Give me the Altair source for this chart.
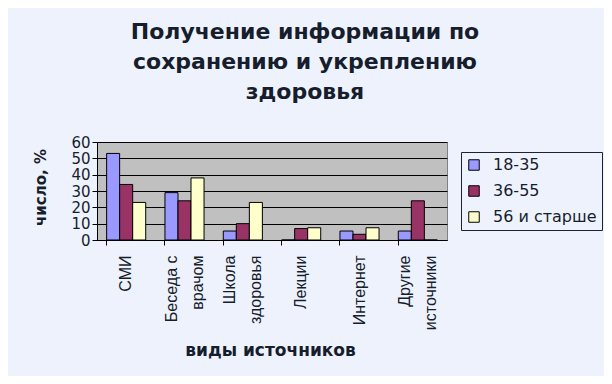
import altair as alt
import pandas as pd

categories = ["СМИ", "Беседа с|врачом", "Школа|здоровья", "Лекции", "Интернет", "Другие|источники"]
groups = ["18-35", "36-55", "56 и старше"]
v_18_35 = [53, 29, 5.5, 0, 5.5, 5.5]
v_36_55 = [34, 24, 10, 7, 3.5, 24]
v_56 = [23, 38, 23, 7.5, 7.5, 0]
colors = ["#9999FF", "#993366", "#FFFFCC"]
title_lines = ["Получение информации по", "сохранению и укреплению", "здоровья"]
y_ticks = [0, 10, 20, 30, 40, 50, 60]

rows = []
for g, vals in zip(groups, [v_18_35, v_36_55, v_56]):
    for c, v in zip(categories, vals):
        rows.append({"cat": c, "grp": g, "val": v})
df = pd.DataFrame(rows)

TXT = "#161d2c"
BG = "#EEF2FC"

xscale = alt.Scale(domain=categories, paddingInner=0.33, paddingOuter=0.165)

bars = alt.Chart(df).mark_bar(stroke="black", strokeWidth=1).encode(
    x=alt.X("cat:N", sort=categories, scale=xscale,
            axis=alt.Axis(title="виды источников", orient="bottom", labelAngle=270, labelAlign="right",
                          labelBaseline="middle", labelExpr="split(datum.label, '|')",
                          labelOffset={"condition": {"test": "indexof(datum.label, '|') >= 0", "value": -13}, "value": 0},
                          labelFont="Liberation Sans", labelFontSize=16, labelLineHeight=26,
                          labelColor=TXT, labelPadding=15, ticks=False, domain=True,
                          domainColor="black", grid=False, labelLimit=200,
                          titleFont="DejaVu Sans", titleFontSize=17, titleFontWeight="bold",
                          titleColor=TXT, titleX=173, titleY=110, titleBaseline="middle")),
    xOffset=alt.XOffset("grp:N", sort=groups, scale=alt.Scale(paddingInner=0, paddingOuter=0)),
    y=alt.Y("val:Q", scale=alt.Scale(domain=[0, 60], nice=False),
            axis=alt.Axis(title="число, %", values=y_ticks, grid=True, gridColor="black",
                          gridWidth=1, domainColor="black", tickColor="black", tickSize=5,
                          labelFont="DejaVu Sans", labelFontSize=15, labelColor=TXT,
                          labelPadding=2, titleFont="DejaVu Sans", titleFontSize=15,
                          titleFontWeight="bold", titleColor=TXT, titleAngle=270,
                          titleX=-57, titleY=45, titleBaseline="middle", titleAlign="center")),
    color=alt.Color("grp:N", sort=groups, scale=alt.Scale(domain=groups, range=colors),
                    legend=alt.Legend(title=None, orient="none", legendX=364, legendY=10,
                                      symbolType="square", symbolSize=110,
                                      symbolStrokeColor="black", symbolStrokeWidth=1,
                                      labelFont="DejaVu Sans", labelFontSize=16, labelColor=TXT,
                                      fillColor=BG, strokeColor="#1b2333", padding=5,
                                      rowPadding=10, labelOffset=11, symbolOpacity=1)),
)

edge_ticks = alt.Chart(df).mark_point(opacity=0).encode(
    x=alt.X("cat:N", sort=categories, scale=xscale,
            axis=alt.Axis(title=None, orient="bottom", labels=False, ticks=True, tickSize=5,
                          tickColor="black", bandPosition=0, domain=False, grid=False)),
)

chart = alt.layer(bars, edge_ticks).resolve_axis(x="independent").properties(
    width=350, height=98,
    autosize=alt.AutoSizeParams(type="none"),
    padding={"left": 89, "top": 134, "right": 157, "bottom": 136},
    title=alt.TitleParams(text=title_lines, font="DejaVu Sans", fontSize=22, fontWeight="bold",
                          lineHeight=30, anchor="middle", dx=33, offset=31, color=TXT,
                          baseline="top", frame="group"),
).configure(background=BG).configure_view(fill="#C0C0C0", stroke="#808080", strokeWidth=1)

chart.save("out.html", embed_options={"renderer": "svg", "actions": False})
